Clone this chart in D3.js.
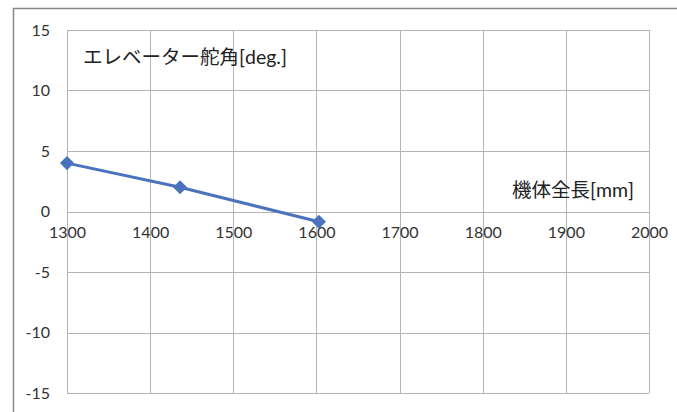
<!DOCTYPE html>
<html><head><meta charset="utf-8">
<script src="https://cdn.jsdelivr.net/npm/d3@7"></script>
<style>body{margin:0;background:#fff}svg{display:block}</style>
</head><body><svg id="c" width="677" height="412"></svg>
<script>
const xValues = [1300, 1436, 1603];
const yValues = [4, 2, -0.85];
const xTicks = [1300, 1400, 1500, 1600, 1700, 1800, 1900, 2000];
const yTicks = [15, 10, 5, 0, -5, -10, -15];
const yTitle = "エレベーター舵角[deg.]";
const xTitle = "機体全長[mm]";

const svg = d3.select("#c");
const W = 677, H = 412;
const x = d3.scaleLinear().domain([1300, 2000]).range([67, 649]);
const y = d3.scaleLinear().domain([-15, 15]).range([393, 30]);
const font = "Lato, 'Open Sans', 'Noto Sans CJK JP', sans-serif";

svg.append("rect").attr("width", W).attr("height", H).attr("fill", "#fff");
// outer chart border
svg.append("path").attr("d", `M13.5,${H+2} V8.5 H${W+2}`).attr("fill","none").attr("stroke","#888").attr("stroke-width",1.5);

const grid = svg.append("g").attr("stroke", "#b4b4b4").attr("stroke-width", 1);
xTicks.forEach(t => grid.append("line").attr("x1", Math.round(x(t))+0.5).attr("x2", Math.round(x(t))+0.5).attr("y1", y(15)).attr("y2", y(-15)));
yTicks.forEach(t => grid.append("line").attr("y1", Math.round(y(t))+0.5).attr("y2", Math.round(y(t))+0.5).attr("x1", x(1300)).attr("x2", x(2000)));

// y tick labels
const yAxis = d3.axisLeft(y).tickValues(yTicks).tickSize(0).tickPadding(17).tickFormat(d3.format("d"));
const ga = svg.append("g").attr("transform", `translate(${x(1300)},0)`).call(yAxis);
ga.select(".domain").remove();
ga.selectAll("text").attr("font-family", font).attr("font-size", 16).attr("fill", "#333").text(d => d < 0 ? "-" + Math.abs(d) : d);

// x tick labels along the zero line
const xAxis = d3.axisBottom(x).tickValues(xTicks).tickSize(0).tickPadding(15).tickFormat(d3.format("d"));
const gx = svg.append("g").attr("transform", `translate(0,${y(0)})`).call(xAxis);
gx.select(".domain").remove();
gx.selectAll("text").attr("font-family", font).attr("font-size", 16).attr("fill", "#333");

// line
const pts = xValues.map((v, i) => [v, yValues[i]]);
svg.append("path").datum(pts)
  .attr("d", d3.line().x(d => x(d[0])).y(d => y(d[1])))
  .attr("fill", "none").attr("stroke", "#4a72bd").attr("stroke-width", 3);
svg.append("g").selectAll("path").data(pts).join("path")
  .attr("d", d3.symbol().type(d3.symbolSquare).size(100))
  .attr("transform", d => `translate(${x(d[0])},${y(d[1])}) rotate(45)`)
  .attr("fill", "#4a72bd");

// titles
svg.append("text").attr("x", 83).attr("y", 64).attr("font-family", font).attr("font-size", 19.5).attr("fill", "#222").text(yTitle);
svg.append("text").attr("x", 634).attr("y", 197).attr("text-anchor", "end").attr("font-family", font).attr("font-size", 19.5).attr("fill", "#222").text(xTitle);
</script></body></html>
